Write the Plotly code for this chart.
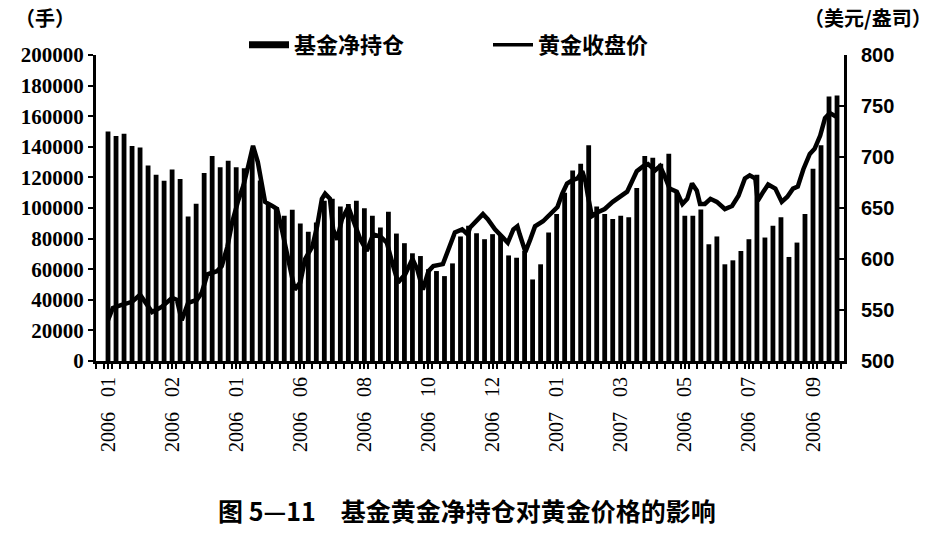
import plotly.graph_objects as go

# ---- data ----
fund_net = [150000,147000,148500,140600,139500,127800,121700,117800,125200,118900,
            94500,102800,122800,134000,126700,130900,126700,126000,135000,118000,
            102600,100600,95000,98900,89900,84400,90600,104800,106000,101000,
            102600,104800,99800,95000,87300,97600,83300,77000,70400,68600,
            60000,58800,55500,63800,81400,88400,83500,79600,82900,81800,
            69000,67500,71900,53300,63200,84000,96000,110000,124500,129000,
            141000,101000,96000,92800,95000,93900,113000,134000,132800,129000,
            135500,110000,95000,95000,99000,76300,81400,63200,65800,71900,
            79600,121700,80700,88400,93900,68000,77400,96000,125700,141000,
            172800,173500]
weeks = list(range(len(fund_net)))

gold_t = [0.0,0.6,1.7,3.0,4.0,4.6,5.5,6.7,8.0,8.6,9.2,10.0,11.1,11.7,12.4,13.6,14.2,14.9,
          15.5,16.2,16.9,17.5,18.1,18.7,19.2,19.6,20.5,21.1,21.7,22.3,23.3,24.0,24.6,25.5,
          26.1,26.7,27.1,27.7,28.1,28.6,29.2,30.0,30.6,31.5,32.3,33.1,34.0,34.8,35.6,36.2,
          37.1,38.0,38.6,39.3,40.0,40.6,41.8,42.7,43.3,44.2,44.9,45.2,46.1,46.8,47.4,48.3,
          49.3,49.9,50.6,51.1,51.4,52.1,52.7,53.3,54.3,55.2,56.1,56.7,57.3,57.9,58.6,59.2,
          59.6,59.9,60.4,61.2,62.0,63.0,63.9,64.8,65.4,66.0,66.8,67.4,68.3,68.9,69.5,70.1,
          71.0,71.7,72.3,72.9,73.5,73.9,74.5,75.2,76.0,77.0,77.9,78.7,79.5,80.1,80.8,81.1,
          81.8,82.4,83.3,84.1,84.8,85.5,86.1,86.8,87.6,88.2,88.9,89.5,90.1,90.8,91.1]
gold_price = [540,552,555,558,565,558,548,553,562,560,540,557,560,567,585,588,593,612,
              636,656,672,691,711,695,672,656,652,649,629,607,570,577,600,612,
              632,659,664,659,629,619,639,651,637,619,608,624,622,616,593,577,
              585,600,590,570,588,593,595,612,626,629,624,631,639,644,639,629,
              621,616,629,632,624,607,619,632,637,644,651,664,674,677,679,686,
              676,662,642,646,649,656,661,666,676,686,691,693,687,691,681,669,
              666,654,659,674,667,654,654,659,656,649,652,662,679,682,679,657,
              666,673,669,656,661,669,671,688,703,708,721,738,743,740,741]

tick_pos = [0, 8, 16, 24, 32, 40, 48, 56, 64, 72, 80, 88]
tick_labels = ["2006 01","2006 02","2006 01","2006 06","2006 08","2006 10",
               "2006 12","2007 01","2007 03","2006 05","2006 07","2006 09"]

left_ticks = list(range(0, 200001, 20000))
right_ticks = list(range(500, 801, 50))

series_bar = "基金净持仓"
series_line = "黄金收盘价"
left_unit = "（手）"
right_unit = "（美元/盎司）"
title = "图 5—11　基金黄金净持仓对黄金价格的影响"

CJK = "Noto Sans CJK SC"
SERIF = "Liberation Serif"
SANS = "Liberation Sans"

W, H = 937, 533
ML, MR, MT, MB = 96, 93, 55, 172

fig = go.Figure()
fig.add_trace(go.Bar(x=weeks, y=fund_net, marker=dict(color="black", line=dict(width=0)),
                     width=0.6, showlegend=False, name=series_bar))
fig.add_trace(go.Scatter(x=gold_t, y=gold_price, yaxis="y2", mode="lines",
                         line=dict(color="black", width=4.5), showlegend=False, name=series_line))
# legend entries
fig.add_trace(go.Scatter(x=[None], y=[None], mode="lines", name=series_bar,
                         line=dict(color="black", width=7), legend="legend"))
fig.add_trace(go.Scatter(x=[None], y=[None], mode="lines", name=series_line,
                         line=dict(color="black", width=3.5), legend="legend2"))

pw = W - ML - MR
ph = H - MT - MB

def px(x):
    return (x - ML) / pw

def py(y):
    return (H - MB - y) / ph

fig.update_layout(
    width=W, height=H,
    margin=dict(l=ML, r=MR, t=MT, b=MB, autoexpand=False),
    paper_bgcolor="white", plot_bgcolor="white",
    xaxis=dict(range=[-1.5, 91.87], tickmode="array", tickvals=tick_pos,
               ticktext=[t.replace(" ", "\u00a0\u00a0\u00a0") for t in tick_labels],
               tickangle=-90, showline=True, linecolor="black", linewidth=3,
               ticks="outside", ticklen=5, tickwidth=1.5, tickcolor="black",
               minor=dict(tickmode="linear", tick0=0.5, dtick=1, ticks="outside",
                          ticklen=5, tickwidth=1.5, tickcolor="black"),
               showgrid=False, zeroline=False,
               tickfont=dict(family=SERIF, size=20, color="black")),
    yaxis=dict(range=[0, 200000], tickmode="array", tickvals=left_ticks,
               ticktext=[str(v) for v in left_ticks],
               showline=True, linecolor="black", linewidth=3,
               ticks="outside", ticklen=5, tickwidth=1.5, tickcolor="black",
               showgrid=False, zeroline=False,
               tickfont=dict(family=SERIF, size=21, color="black", weight="bold")),
    yaxis2=dict(range=[500, 800], tickmode="array", tickvals=right_ticks,
                overlaying="y", side="right", anchor="x",
                showline=True, linecolor="black", linewidth=3,
                ticks="inside", ticklen=6, tickwidth=1.5, tickcolor="black",
                ticklabelstandoff=10,
                showgrid=False, zeroline=False,
                tickfont=dict(family=SANS, size=20, color="black", weight="bold")),
    legend=dict(x=px(244), y=py(45), xanchor="left", yanchor="middle",
                font=dict(family=CJK, size=22, color="black", weight="bold"),
                bgcolor="rgba(0,0,0,0)", itemwidth=40),
    legend2=dict(x=px(488), y=py(45), xanchor="left", yanchor="middle",
                 font=dict(family=CJK, size=22, color="black", weight="bold"),
                 bgcolor="rgba(0,0,0,0)", itemwidth=40),
    annotations=[
        dict(text=left_unit, x=px(45), y=py(18), xref="paper", yref="paper",
             xanchor="center", yanchor="middle", showarrow=False,
             font=dict(family=CJK, size=20, color="black", weight="bold")),
        dict(text=right_unit, x=px(868), y=py(18), xref="paper", yref="paper",
             xanchor="center", yanchor="middle", showarrow=False,
             font=dict(family=CJK, size=20, color="black", weight="bold")),
        dict(text=title, x=px(467), y=py(510), xref="paper", yref="paper",
             xanchor="center", yanchor="middle", showarrow=False,
             font=dict(family=CJK, size=25, color="black", weight="bold")),
    ],
)

fig.write_html("out.html", config={"displayModeBar": False},
               post_script="document.body.style.margin='0';")
